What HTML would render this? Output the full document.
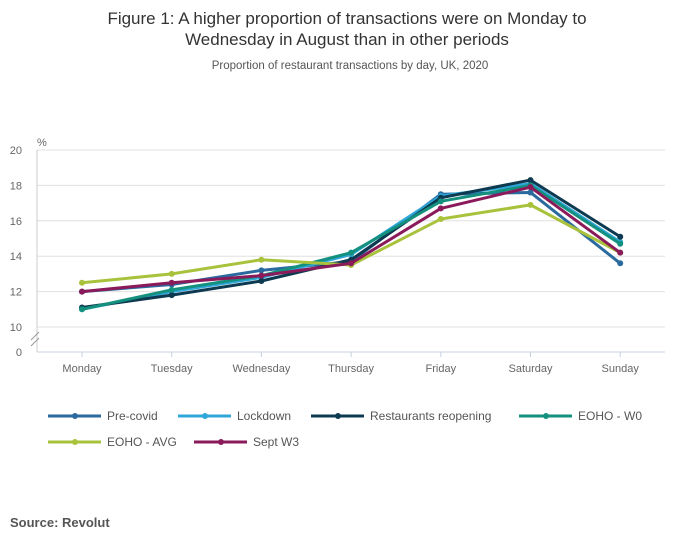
<!DOCTYPE html>
<html><head><meta charset="utf-8"><style>
body{margin:0;background:#fff;font-family:"Liberation Sans",sans-serif;}
svg text{font-family:"Liberation Sans",sans-serif;}
</style></head><body>
<svg id="chart" width="700" height="549" xmlns="http://www.w3.org/2000/svg">
<text x="347" y="24" text-anchor="middle" font-size="17" fill="#333">Figure 1: A higher proportion of transactions were on Monday to</text>
<text x="347" y="45" text-anchor="middle" font-size="17" fill="#333">Wednesday in August than in other periods</text>
<text x="350" y="69" text-anchor="middle" font-size="11.5" fill="#555">Proportion of restaurant transactions by day, UK, 2020</text>
<text x="37" y="146" font-size="11" fill="#666">%</text>
<g id="grid"></g><g id="series"></g><g id="legend"></g>
<text x="10" y="527" font-size="13" font-weight="bold" fill="#555">Source: Revolut</text>
</svg>
<script>
const categories=["Monday","Tuesday","Wednesday","Thursday","Friday","Saturday","Sunday"];
const yTicks=[10,12,14,16,18,20];
const seriesNames=["Pre-covid","Lockdown","Restaurants reopening","EOHO - W0","EOHO - AVG","Sept W3"];
const seriesColors=["#2a6a9e","#2ea7d8","#0d3a50","#14907f","#a9c23c","#8a1a5a"];
const preCovid=[12.0,12.4,13.2,13.7,17.5,17.6,13.6];
const lockdown=[11.0,12.0,12.8,14.1,17.4,18.1,14.8];
const reopening=[11.1,11.8,12.6,13.8,17.3,18.3,15.1];
const eohoW0=[11.0,12.1,12.9,14.2,17.1,18.0,14.7];
const eohoAvg=[12.5,13.0,13.8,13.5,16.1,16.9,14.2];
const septW3=[12.0,12.5,12.9,13.6,16.7,17.9,14.2];
const allSeries=[preCovid,lockdown,reopening,eohoW0,eohoAvg,septW3];
const NS="http://www.w3.org/2000/svg";
const x=i=>82+i*89.7;
const y=v=>327-(v-10)*17.7;
function mk(t,a,p){const e=document.createElementNS(NS,t);for(const k in a)e.setAttribute(k,a[k]);p.appendChild(e);return e;}
const grid=document.getElementById('grid');
yTicks.forEach(t=>{
 const l=mk('line',{x1:37,x2:665,y1:y(t),y2:y(t),stroke:'#e0e0e0'},grid);
 
 
 const tx=mk('text',{x:22,y:y(t)+4,'text-anchor':'end','font-size':11,fill:'#666'},grid);tx.textContent=t;
 
 
});
const z=mk('text',{x:22,y:356,'text-anchor':'end','font-size':11,fill:'#666'},grid);z.textContent='0';


mk('line',{x1:37,x2:37,y1:150,y2:352,stroke:'#ccc'},grid);
mk('line',{x1:37,x2:665,y1:352,y2:352,stroke:'#c8d0e0'},grid);
mk('path',{d:'M31,340 L39,332 M31,346 L39,338',stroke:'#999',fill:'none'},grid);
categories.forEach((c,i)=>{
 mk('line',{x1:x(i),x2:x(i),y1:352,y2:357,stroke:'#c8d0e0'},grid);
 const t=mk('text',{x:x(i),y:372,'text-anchor':'middle','font-size':11,fill:'#666'},grid);t.textContent=c;
 
 
});
const sg=document.getElementById('series');
allSeries.forEach((s,k)=>{
 const g=mk('g',{},sg);
 
 
 mk('polyline',{points:s.map((v,i)=>x(i)+','+y(v)).join(' '),fill:'none',stroke:seriesColors[k],'stroke-width':3,'stroke-linejoin':'round'},g);
 s.forEach((v,i)=>{const c=mk('circle',{cx:x(i),cy:y(v),r:3,fill:seriesColors[k]},g);
  
  });
});
const lg=document.getElementById('legend');
const pos=[[48,416],[178,416],[311,416],[519,416],[48,442],[194,442]];
seriesNames.forEach((n,k)=>{
 const [px,py]=pos[k];
 const g=mk('g',{},lg);
 
 
 mk('line',{x1:px,x2:px+53,y1:py,y2:py,stroke:seriesColors[k],'stroke-width':3},g);
 mk('circle',{cx:px+27,cy:py,r:3,fill:seriesColors[k]},g);
 const t=mk('text',{x:px+59,y:py+4,'font-size':12,fill:'#555'},g);t.textContent=n;
});
</script>
</body></html>
